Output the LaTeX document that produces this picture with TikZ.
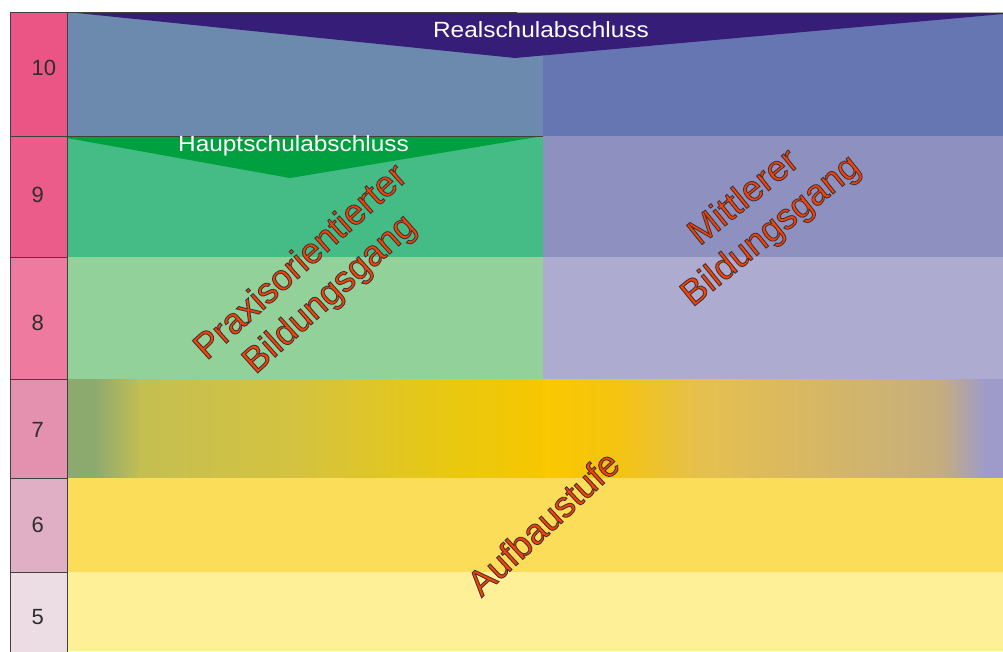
\documentclass[tikz,border=0pt]{standalone}
\usepackage{fontspec}
\setmainfont{Liberation Sans}
\newfontfamily\widesans[FakeStretch=1.11]{Liberation Sans}
\definecolor{lineg}{HTML}{404040}
\definecolor{numtxt}{HTML}{2E2E2E}
\definecolor{n10}{HTML}{EB5586}
\definecolor{n9}{HTML}{EC5C8B}
\definecolor{n8}{HTML}{EE7AA0}
\definecolor{n7}{HTML}{E391AF}
\definecolor{n6}{HTML}{E1AFC5}
\definecolor{n5}{HTML}{ECDDE5}
\definecolor{tenL}{HTML}{6C8AAE}
\definecolor{tenR}{HTML}{6676B3}
\definecolor{realc}{HTML}{361D78}
\definecolor{hauptc}{HTML}{009F40}
\definecolor{nineL}{HTML}{45BB86}
\definecolor{nineR}{HTML}{8E90C0}
\definecolor{eightL}{HTML}{92D29A}
\definecolor{eightR}{HTML}{ADABD0}
\definecolor{sixc}{HTML}{FBDD5A}
\definecolor{fivec}{HTML}{FEF096}
\definecolor{txtred}{HTML}{FF4000}
\definecolor{gA}{HTML}{8DAA6E}
\definecolor{gB}{HTML}{C4BF52}
\definecolor{gC}{HTML}{D5C33F}
\definecolor{gD}{HTML}{E9C810}
\definecolor{gE}{HTML}{F6C700}
\definecolor{gF}{HTML}{FBC800}
\definecolor{gG}{HTML}{F4C410}
\definecolor{gH}{HTML}{E6C04E}
\definecolor{gI}{HTML}{C5AE7D}
\definecolor{gJ}{HTML}{9E9BCB}
\newcommand{\outltext}[1]{\special{pdf:literal direct 2 Tr 0.9 w 0.25 0.2 0.2 RG}#1\special{pdf:literal direct 0 Tr}}
\tikzset{
  numcell/.style={draw=lineg, line width=0.8pt},
  numlbl/.style={text=numtxt, font=\fontsize{22}{26}\selectfont, inner sep=0pt, anchor=west},
  banlbl/.style={text=white, font=\widesans\fontsize{22}{26}\selectfont, inner sep=0pt},
  diaglbl/.style={text=txtred, font=\fontsize{36}{43}\selectfont, align=center, inner sep=0pt},
}
\begin{document}
\begin{tikzpicture}[x=1pt,y=-1pt]
\useasboundingbox (0,0) rectangle (1003,651);
\fill[white] (0,0) rectangle (1003,651);
% row 7 gradient
\fill[gA] (67,379) rectangle (96,479);
\shade[left color=gA, right color=gB] (95,379) rectangle (141,479);
\shade[left color=gB, right color=gC] (140,379) rectangle (301,479);
\shade[left color=gC, right color=gD] (300,379) rectangle (451,479);
\shade[left color=gD, right color=gE] (450,379) rectangle (544,479);
\shade[left color=gF, right color=gG] (543,379) rectangle (616,479);
\shade[left color=gG, right color=gH] (615,379) rectangle (701,479);
\shade[left color=gH, right color=gI] (700,379) rectangle (941,479);
\shade[left color=gI, right color=gJ] (940,379) rectangle (986,479);
\fill[gJ] (985,379) rectangle (1003,479);
% main rows
\fill[tenL] (67,12) rectangle (543,136);
\fill[tenR] (543,12) rectangle (1003,136);
\fill[nineL] (67,136) rectangle (543,257);
\fill[nineR] (543,136) rectangle (1003,257);
\fill[eightL] (67,257) rectangle (543,379);
\fill[eightR] (543,257) rectangle (1003,379);
\fill[sixc] (67,478) rectangle (1003,572);
\fill[fivec] (67,572) rectangle (1003,651);
% banners
\fill[realc] (67,12) -- (1003,12) -- (1003,14) -- (515,58) -- cycle;
\fill[hauptc] (67,136) -- (543,136) -- (290,178) -- (67,138) -- cycle;
% left column
\filldraw[numcell, fill=n10] (10,12) rectangle (67,136);
\filldraw[numcell, fill=n9] (10,136) rectangle (67,257);
\filldraw[numcell, fill=n8] (10,257) rectangle (67,379);
\filldraw[numcell, fill=n7] (10,379) rectangle (67,478);
\filldraw[numcell, fill=n6] (10,478) rectangle (67,572);
\filldraw[numcell, fill=n5] (10,572) rectangle (67,652);
\draw[lineg, line width=0.8pt] (67,12) -- (517,12);
\draw[lineg!40, line width=0.6pt] (517,12) -- (1003,12);
\draw[lineg, line width=0.8pt] (67,136) -- (543,136);
\draw[lineg, line width=0.8pt] (67,12) -- (67,652);
% labels
\node[numlbl] (g10) at (31.5,68) {10};
\node[numlbl] (g9) at (31.5,195) {9};
\node[numlbl] (g8) at (31.5,323) {8};
\node[numlbl] (g7) at (31.5,430) {7};
\node[numlbl] (g6) at (31.5,525) {6};
\node[numlbl] (g5) at (31.5,617) {5};
\node[banlbl] (real) at (541,29.5) {Realschulabschluss};
\node[banlbl] (haupt) at (293.5,146) {Hauptschulabschluss};
\node[diaglbl, rotate=42] (praxis) at (316,279) {\outltext{Praxisorientierter}\\\outltext{Bildungsgang}};
\node[diaglbl, rotate=39] (mittel) at (758,215) {\outltext{Mittlerer}\\\outltext{Bildungsgang}};
\node[diaglbl, rotate=43] (aufbau) at (543,523) {\outltext{Aufbaustufe}};
\end{tikzpicture}
\end{document}
